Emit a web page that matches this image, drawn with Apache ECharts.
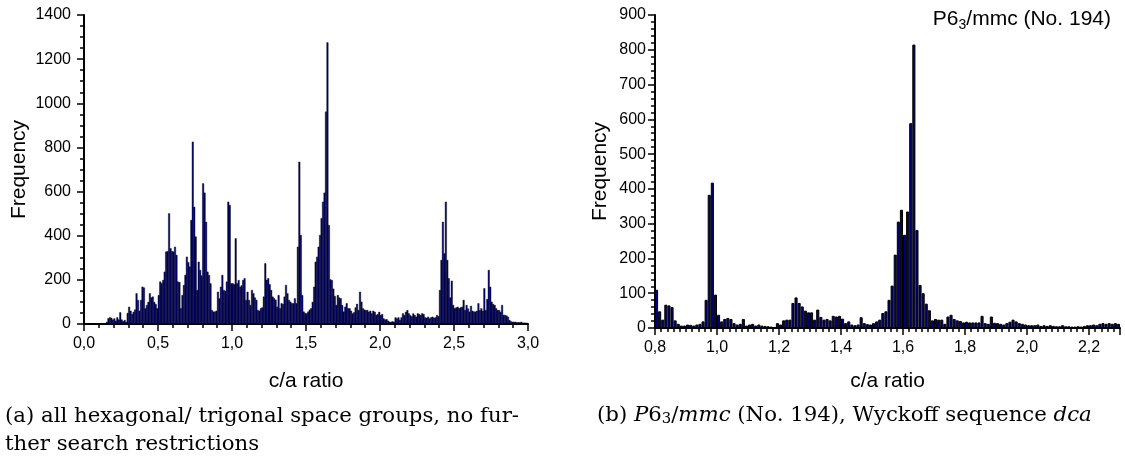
<!DOCTYPE html>
<html>
<head>
<meta charset="utf-8">
<script src="https://cdn.jsdelivr.net/npm/echarts@6/dist/echarts.min.js"></script>
<style>
  html, body { margin: 0; padding: 0; background: #fff; }
  #chart { width: 1125px; height: 459px; }
</style>
</head>
<body>
<div id="chart"></div>
<script>
// histogram (a): all hexagonal / trigonal space groups, bins of 0.01 starting at 0.15
const leftBinStart = 0.15
const leftCounts = [
  10, 26, 30, 28, 20, 25, 15, 30, 20, 53,
  20, 12, 18, 10, 50, 78, 60, 45, 55, 65,
  139, 109, 60, 109, 169, 165, 71, 86, 100, 139,
  120, 124, 100, 90, 71, 131, 192, 185, 199, 237,
  328, 330, 501, 343, 330, 328, 350, 313, 192, 190,
  71, 131, 177, 222, 305, 280, 260, 471, 826, 531,
  396, 154, 282, 245, 220, 637, 595, 463, 237, 222,
  184, 63, 56, 56, 60, 146, 116, 169, 222, 154,
  150, 192, 554, 539, 184, 184, 180, 388, 184, 199,
  169, 175, 199, 207, 109, 146, 109, 86, 154, 139,
  120, 109, 63, 60, 71, 75, 124, 275, 200, 207,
  180, 154, 124, 116, 110, 78, 131, 71, 94, 90,
  124, 177, 139, 109, 101, 94, 94, 116, 94, 350,
  735, 403, 131, 56, 50, 48, 56, 65, 71, 100,
  169, 282, 305, 350, 403, 479, 554, 595, 962, 1276,
  448, 202, 199, 160, 127, 86, 131, 120, 116, 86,
  56, 78, 94, 71, 71, 60, 48, 53, 75, 91,
  63, 146, 101, 71, 65, 63, 63, 55, 60, 48,
  60, 55, 41, 45, 55, 40, 45, 25, 20, 22,
  15, 10, 10, 12, 10, 30, 25, 30, 18, 30,
  48, 40, 55, 63, 48, 40, 35, 48, 40, 33,
  48, 45, 40, 48, 45, 30, 28, 33, 25, 30,
  33, 28, 30, 40, 35, 154, 290, 463, 320, 554,
  290, 207, 120, 196, 86, 71, 75, 78, 71, 75,
  78, 109, 63, 86, 70, 56, 82, 60, 56, 56,
  60, 94, 63, 71, 60, 162, 63, 113, 245, 169,
  101, 90, 86, 71, 63, 63, 55, 86, 41, 41,
  38, 33, 18, 12, 10, 10, 10, 8, 8, 8,
  10, 6, 6, 6, 5
]

// histogram (b): P6_3/mmc (No. 194), Wyckoff sequence dca, bins of 0.01 starting at 0.80
const rightBinStart = 0.80
const rightCounts = [
  110, 48, 24, 67, 65, 60, 22, 12, 7, 7,
  10, 9, 7, 10, 12, 19, 81, 383, 418, 96,
  38, 19, 26, 29, 26, 14, 10, 12, 26, 7,
  10, 12, 7, 10, 7, 6, 5, 4, 3, 14,
  10, 22, 24, 24, 72, 88, 72, 62, 50, 45,
  45, 24, 53, 32, 24, 26, 22, 35, 33, 35,
  27, 14, 19, 10, 8, 10, 31, 14, 11, 10,
  14, 19, 24, 43, 48, 81, 122, 211, 306, 340,
  268, 335, 589, 815, 282, 124, 100, 70, 51, 22,
  26, 24, 24, 12, 33, 38, 26, 22, 20, 16,
  18, 16, 16, 16, 16, 35, 14, 12, 33, 15,
  14, 12, 10, 14, 18, 24, 19, 14, 12, 10,
  8, 8, 8, 10, 6, 8, 6, 8, 6, 5,
  5, 8, 5, 5, 4, 4, 5, 4, 6, 8,
  8, 10, 8, 12, 14, 12, 14, 12, 14, 12
]
const binWidth = 0.01

const leftXTicks = { min: 0, max: 3, interval: 0.5 }
const leftYTicks = { min: 0, max: 1400, interval: 200 }
const rightXTicks = { min: 0.8, max: 2.3, interval: 0.2 }
const rightYTicks = { min: 0, max: 900, interval: 100 }

const captionA = ['(a) all hexagonal/ trigonal space groups, no fur-', 'ther search restrictions']

const toPairs = (start, counts) =>
  counts.map((c, i) => [+(start + i * binWidth + binWidth / 2).toFixed(4), c])

const sansFont = 'Liberation Sans, Arial, sans-serif'
const serifFont = 'DejaVu Serif, serif'

// pick a caption font size that makes the first line as wide as in the original
const measure = document.createElement('canvas').getContext('2d')
const fitSize = (text, target) => {
  measure.font = '20px ' + serifFont
  return 20 * target / measure.measureText(text).width
}
const capSize = fitSize(captionA[0], 514)

const commaLabel = (digits) => (v) => v.toFixed(digits).replace('.', ',')

const leftGrid = { left: 84, top: 15, width: 444, height: 309 }
const rightGrid = { left: 655, top: 15, width: 465, height: 313 }

const baseAxis = {
  axisLine: { show: true, onZero: false, lineStyle: { color: '#000', width: 2 } },
  axisTick: { show: true, inside: false, length: 7, lineStyle: { color: '#000', width: 1.5 } },
  minorTick: { show: true, length: 4, lineStyle: { color: '#000', width: 1.5 } },
  splitLine: { show: false },
  minorSplitLine: { show: false },
  axisLabel: { color: '#000', fontSize: 16, fontFamily: sansFont, margin: 13 },
  nameTextStyle: { color: '#000', fontSize: 21, fontFamily: sansFont }
}

const xAxis = (idx, ticks, split, gap) => ({
  ...baseAxis,
  type: 'value',
  gridIndex: idx,
  min: ticks.min,
  max: ticks.max,
  interval: ticks.interval,
  minorTick: { ...baseAxis.minorTick, splitNumber: split },
  axisLabel: { ...baseAxis.axisLabel, margin: 12, formatter: commaLabel(1), showMaxLabel: idx === 0 },
  name: 'c/a ratio',
  nameLocation: 'middle',
  nameGap: gap
})

const yAxis = (idx, ticks, split, gap, margin) => ({
  ...baseAxis,
  type: 'value',
  gridIndex: idx,
  min: ticks.min,
  max: ticks.max,
  interval: ticks.interval,
  minorTick: { ...baseAxis.minorTick, splitNumber: split },
  axisLabel: { ...baseAxis.axisLabel, margin, formatter: (v) => String(v) },
  name: 'Frequency',
  nameLocation: 'middle',
  nameRotate: 90,
  nameGap: gap
})

const barSeries = (idx, data, width, fill, border) => ({
  type: 'bar',
  xAxisIndex: idx,
  yAxisIndex: idx,
  barWidth: width,
  barGap: '-100%',
  data,
  itemStyle: { color: fill, borderColor: '#000', borderWidth: border },
  emphasis: { disabled: true },
  animation: false
})

const chart = echarts.init(document.getElementById('chart'), null, { renderer: 'canvas' })

const leftBarPx = leftGrid.width * binWidth / (leftXTicks.max - leftXTicks.min)
const rightBarPx = rightGrid.width * binWidth / (rightXTicks.max - rightXTicks.min)

chart.setOption({
  animation: false,
  grid: [leftGrid, rightGrid],
  xAxis: [
    xAxis(0, leftXTicks, 5, 47),
    xAxis(1, rightXTicks, 10, 43)
  ],
  yAxis: [
    yAxis(0, leftYTicks, 4, 54, 13),
    yAxis(1, rightYTicks, 5, 44, 9)
  ],
  series: [
    barSeries(0, toPairs(leftBinStart, leftCounts), leftBarPx + 0.4, '#000078', 0.4),
    barSeries(1, toPairs(rightBinStart, rightCounts), rightBarPx, '#000080', 1)
  ],
  graphic: [
    {
      type: 'text',
      right: 14,
      top: 6,
      style: {
        text: '{a|P6}{s|3}{a|/mmc (No. 194)}',
        rich: {
          a: { fontSize: 21, fontFamily: sansFont, fill: '#000', lineHeight: 23 },
          s: { fontSize: 14, fontFamily: sansFont, fill: '#000', lineHeight: 23, padding: [12, 0, 0, 0] }
        }
      }
    },
    {
      type: 'text',
      style: {
        x: 5, y: 416, verticalAlign: 'middle',
        text: captionA[0],
        font: capSize.toFixed(2) + 'px ' + serifFont,
        fill: '#000'
      }
    },
    {
      type: 'text',
      style: {
        x: 5, y: 444, verticalAlign: 'middle',
        text: captionA[1],
        font: capSize.toFixed(2) + 'px ' + serifFont,
        fill: '#000'
      }
    },
    {
      type: 'text',
      left: 597,
      top: 404,
      style: {
        text: '{n|(b) }{i|P}{n|6}{s|3}{n|/}{i|mmc}{n| (No. 194), Wyckoff sequence }{i|dca}',
        rich: {
          n: { fontSize: capSize, fontFamily: serifFont, fill: '#000', lineHeight: 26 },
          i: { fontSize: capSize, fontFamily: serifFont, fontStyle: 'italic', fill: '#000', lineHeight: 26 },
          s: { fontSize: capSize * 0.7, fontFamily: serifFont, fill: '#000', lineHeight: 26, padding: [8, 0, 0, 0] }
        }
      }
    }
  ]
})

window.addEventListener('resize', () => chart.resize())
</script>
</body>
</html>
